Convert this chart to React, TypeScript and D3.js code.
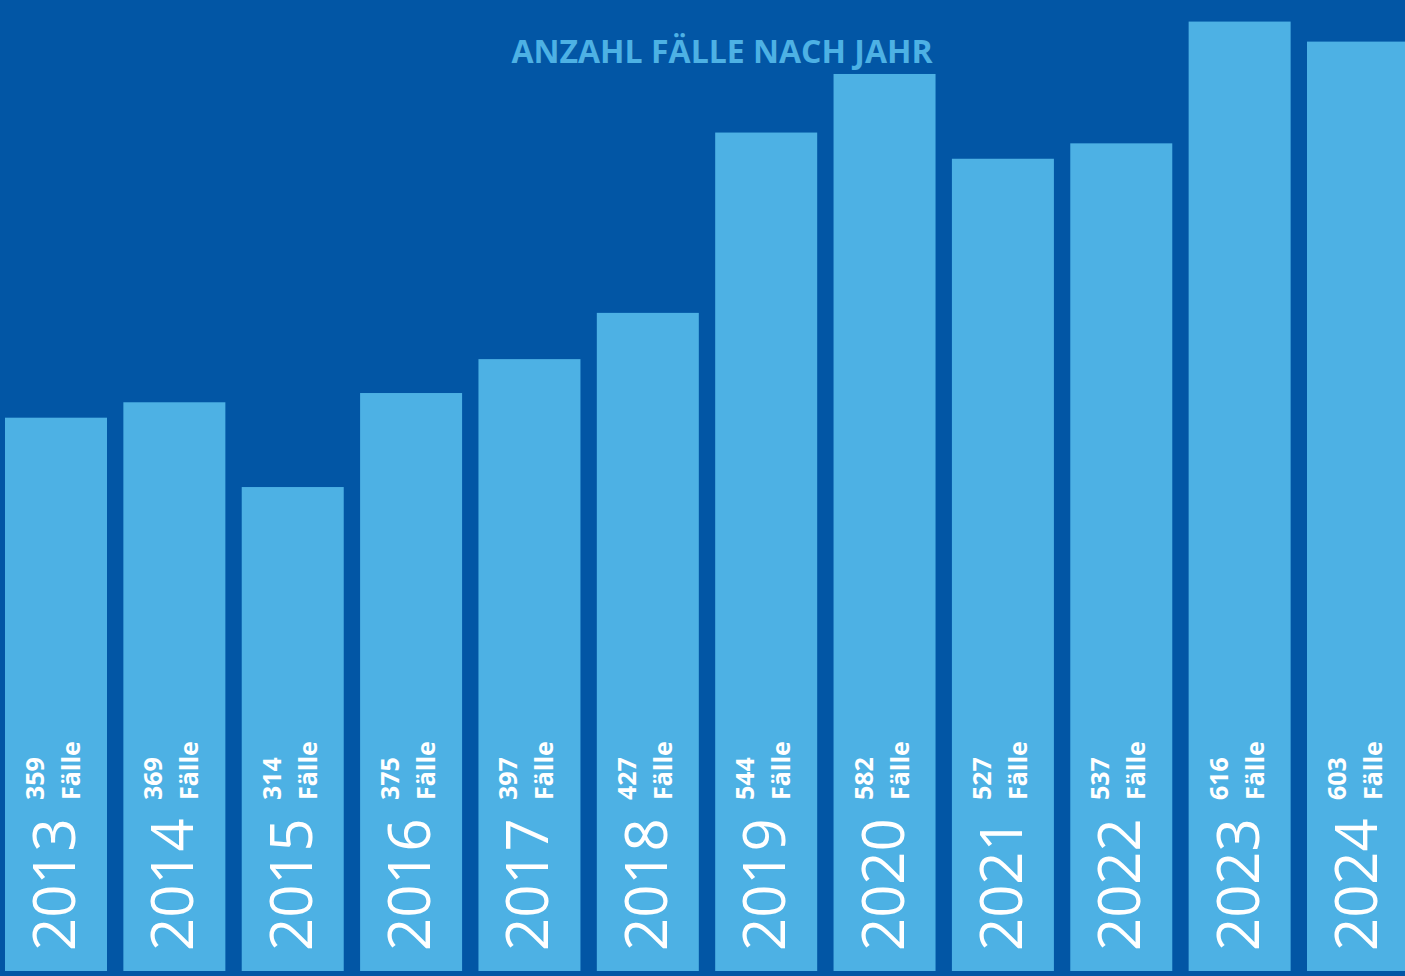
import React from "react";
import * as d3 from "d3";

const years = ["2013", "2014", "2015", "2016", "2017", "2018", "2019", "2020", "2021", "2022", "2023", "2024"];
const cases = [359, 369, 314, 375, 397, 427, 544, 582, 527, 537, 616, 603];
const title = "ANZAHL FÄLLE NACH JAHR";
const unitLabel = "Fälle";

const W = 1405;
const H = 976;
const BG = "#0256A5";
const BAR = "#4DB1E4";

export default function App() {
  const x = d3.scaleBand<string>().domain(years).range([5, 1409]).paddingInner(0.1382).paddingOuter(0);
  const y = d3.scaleLinear().domain([0, 630]).range([971, 0]);
  const bw = x.bandwidth();
  return (
    <svg width={W} height={H} style={{ position: "absolute", left: 0, top: 0, display: "block" }}>
      <rect x={0} y={0} width={W} height={H} fill={BG} />
      {years.map((yr, i) => {
        const x0 = x(yr)!;
        const cx = x0 + bw / 2;
        return (
          <g key={yr}>
            <rect x={x0} y={y(cases[i])} width={bw} height={y(0) - y(cases[i])} fill={BAR} />
            <text
              transform={`translate(${cx + 19},951) rotate(-90)`}
              fill="#fff"
              fontFamily="'Open Sans', sans-serif"
              fontWeight={400}
              fontSize={58}
            >
              {yr}
            </text>
            <text
              transform={`translate(${cx - 12},800) rotate(-90)`}
              fill="#fff"
              fontFamily="'Open Sans', sans-serif"
              fontWeight={700}
              fontSize={25}
            >
              {cases[i]}
            </text>
            <text
              transform={`translate(${cx + 24},800) rotate(-90)`}
              fill="#fff"
              fontFamily="'Open Sans', sans-serif"
              fontWeight={700}
              fontSize={25}
            >
              {unitLabel}
            </text>
          </g>
        );
      })}
      <text
        x={722}
        y={63}
        textAnchor="middle"
        fill={BAR}
        fontFamily="'Open Sans', sans-serif"
        fontWeight={700}
        fontSize={32}
      >
        {title}
      </text>
    </svg>
  );
}
